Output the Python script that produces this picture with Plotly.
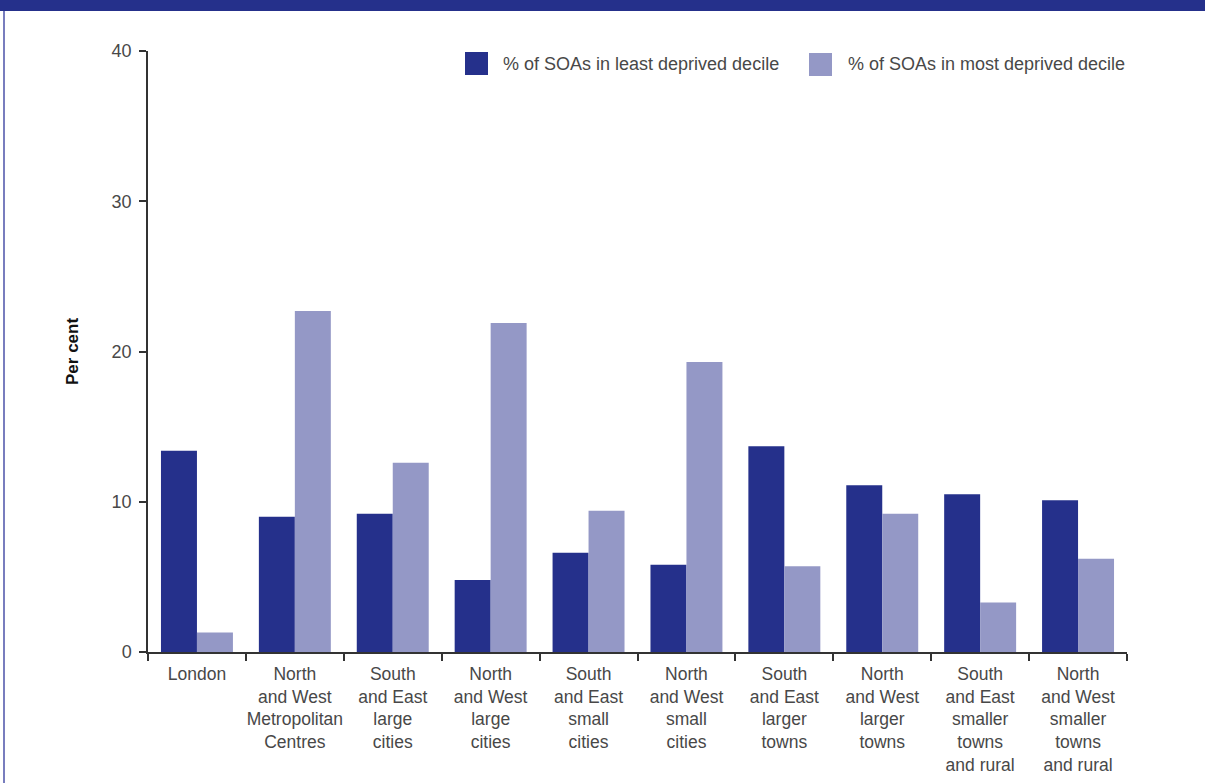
import plotly.graph_objects as go

categories = [
    "London",
    "North<br>and West<br>Metropolitan<br>Centres",
    "South<br>and East<br>large<br>cities",
    "North<br>and West<br>large<br>cities",
    "South<br>and East<br>small<br>cities",
    "North<br>and West<br>small<br>cities",
    "South<br>and East<br>larger<br>towns",
    "North<br>and West<br>larger<br>towns",
    "South<br>and East<br>smaller<br>towns<br>and rural",
    "North<br>and West<br>smaller<br>towns<br>and rural",
]
least_deprived = [13.4, 9.0, 9.2, 4.8, 6.6, 5.8, 13.7, 11.1, 10.5, 10.1]
most_deprived = [1.3, 22.7, 12.6, 21.9, 9.4, 19.3, 5.7, 9.2, 3.3, 6.2]
series_names = ["% of SOAs in least deprived decile", "% of SOAs in most deprived decile"]
y_ticks = [0, 10, 20, 30, 40]

DARK = "rgb(37,48,139)"
LIGHT = "rgb(148,152,198)"
TXT = "#484848"
FONT = "Liberation Sans, Arial, sans-serif"

W, H = 1205, 783
L, R, T, B = 148, 1127, 51, 652


def px(x):
    return (x - L) / (R - L)


def py(y):
    return (B - y) / (B - T)


fig = go.Figure()
fig.add_trace(go.Bar(x=categories, y=least_deprived, name=series_names[0],
                     marker=dict(color=DARK, line=dict(width=0)), showlegend=False))
fig.add_trace(go.Bar(x=categories, y=most_deprived, name=series_names[1],
                     marker=dict(color=LIGHT, line=dict(width=0)), showlegend=False))

shapes = [
    # top band
    dict(type="rect", xref="paper", yref="paper", x0=px(-5), x1=px(W + 5), y0=py(11), y1=py(-5),
         fillcolor=DARK, line=dict(width=0), layer="above"),
    # left border
    dict(type="line", xref="paper", yref="paper", x0=px(4), x1=px(4), y0=py(11), y1=py(H + 5),
         line=dict(color="rgb(120,125,190)", width=2)),
    # legend squares
    dict(type="rect", xref="paper", yref="paper", x0=px(465), x1=px(488), y0=py(75), y1=py(52),
         fillcolor=DARK, line=dict(width=0)),
    dict(type="rect", xref="paper", yref="paper", x0=px(809), x1=px(832), y0=py(76), y1=py(53),
         fillcolor=LIGHT, line=dict(width=0)),
]

annotations = [
    dict(text=series_names[0], xref="paper", yref="paper", x=px(501), y=py(64),
         xanchor="left", yanchor="middle", showarrow=False, font=dict(size=18, color=TXT, family=FONT)),
    dict(text=series_names[1], xref="paper", yref="paper", x=px(846), y=py(64),
         xanchor="left", yanchor="middle", showarrow=False, font=dict(size=18, color=TXT, family=FONT)),
    dict(text="<b>Per cent</b>", xref="paper", yref="paper", x=px(72), y=py(352),
         xanchor="center", yanchor="middle", textangle=-90, showarrow=False,
         font=dict(size=17, color="#111", family=FONT)),
]

fig.update_layout(
    width=W, height=H,
    margin=dict(l=L, r=W - R, t=T, b=H - B, pad=0, autoexpand=False),
    paper_bgcolor="white", plot_bgcolor="white",
    barmode="group", bargap=0.265, bargroupgap=0,
    font=dict(family=FONT, size=18, color=TXT),
    shapes=shapes, annotations=annotations,
    showlegend=False,
)
fig.update_xaxes(
    type="category", range=[-0.5, 9.5], showgrid=False, zeroline=False, automargin=False,
    showline=True, linecolor="#333", linewidth=1.5,
    ticks="outside", tickson="boundaries", ticklen=7, tickwidth=1.5, tickcolor="#333",
    tickfont=dict(size=17.5, color=TXT, family=FONT), tickangle=0, ticklabelstandoff=5,
)
fig.update_yaxes(
    range=[0, 40], tickvals=y_ticks, showgrid=False, zeroline=False, automargin=False,
    showline=True, linecolor="#333", linewidth=1.5,
    ticks="outside", ticklen=7, tickwidth=1.5, tickcolor="#333",
    tickfont=dict(size=18, color=TXT, family=FONT), ticklabelstandoff=4,
)

fig.write_html("out.html", config={"displayModeBar": False},
               post_script="document.body.style.margin='0';document.body.style.overflow='hidden';")
